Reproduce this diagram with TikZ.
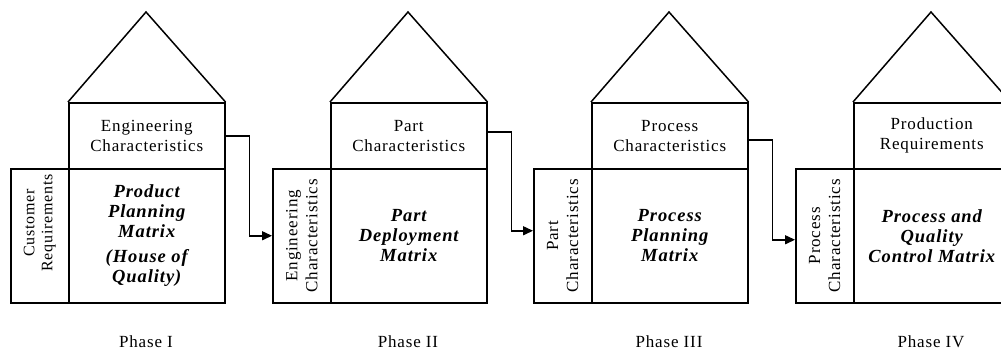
\documentclass[tikz,border=0pt]{standalone}
\usepackage{fontspec}
\setmainfont{Liberation Serif}[LetterSpace=5]
\usetikzlibrary{arrows.meta}

\tikzset{
  box/.style={draw, line width=1.5pt, inner sep=0pt, anchor=north west, align=center},
  topbox/.style={box, minimum width=156pt, minimum height=66pt},
  matbox/.style={box, minimum width=156pt, minimum height=134pt, font=\fontsize{18.5}{20}\selectfont\bfseries\itshape},
  sidebox/.style={box, minimum width=58pt, minimum height=134pt},
  sidetext/.style={rotate=90, align=center, inner sep=0pt},
  roof/.style={line width=1.5pt, line join=miter},
  flow/.style={line width=1.5pt, -{Triangle[length=10pt,width=9pt]}},
}

\begin{document}
\begin{tikzpicture}[x=1pt, y=-1pt, font=\fontsize{17}{20}\selectfont]
\useasboundingbox (0,0) rectangle (1001,354);
\clip (0,0) rectangle (1001,354);

% Phase I
\node[topbox] (top1) at (68,102) {Engineering\\Characteristics};
\node[matbox] (mat1) at (68,168) {Product\\Planning\\Matrix\\[5pt](House of\\Quality)};
\node[sidebox] (side1) at (10,168) {};
\node[sidetext, font=\fontsize{16}{18}\selectfont] (lab1) at ([yshift=13pt]side1.center) {Customer\\Requirements};
\coordinate (apex1) at (146,12);
\draw[roof] (top1.north west) -- (apex1) -- (top1.north east);
\node[anchor=base] (ph1) at (146,347) {Phase I};

% Phase II
\node[topbox] (top2) at (330,102) {Part\\Characteristics};
\node[matbox] (mat2) at (330,168) {Part\\Deployment\\Matrix};
\node[sidebox] (side2) at (272,168) {};
\node[sidetext] (lab2) at (side2.center) {Engineering\\Characteristics};
\coordinate (apex2) at (408,12);
\draw[roof] (top2.north west) -- (apex2) -- (top2.north east);
\node[anchor=base] (ph2) at (408,347) {Phase II};

% Phase III
\node[topbox] (top3) at (591,102) {Process\\Characteristics};
\node[matbox] (mat3) at (591,168) {Process\\Planning\\Matrix};
\node[sidebox] (side3) at (533,168) {};
\node[sidetext] (lab3) at (side3.center) {Part\\Characteristics};
\coordinate (apex3) at (669,12);
\draw[roof] (top3.north west) -- (apex3) -- (top3.north east);
\node[anchor=base] (ph3) at (669,347) {Phase III};

% Phase IV
\node[topbox] (top4) at (853,102) {Production\\Requirements};
\node[matbox] (mat4) at (853,168) {Process and\\Quality\\Control Matrix};
\node[sidebox] (side4) at (795,168) {};
\node[sidetext] (lab4) at (side4.center) {Process\\Characteristics};
\coordinate (apex4) at (931,12);
\draw[roof] (top4.north west) -- (apex4) -- (top4.north east);
\node[anchor=base] (ph4) at (931,347) {Phase IV};

% links between phases
\draw[flow] (top1.east) -- ++(24,0) |- (side2.west);
\draw[flow] ([yshift=4pt]top2.east) -- ++(24,0) |- ([yshift=5pt]side3.west);
\draw[flow] ([yshift=-4pt]top3.east) -- ++(24,0) |- ([yshift=-4pt]side4.west);
\end{tikzpicture}
\end{document}
